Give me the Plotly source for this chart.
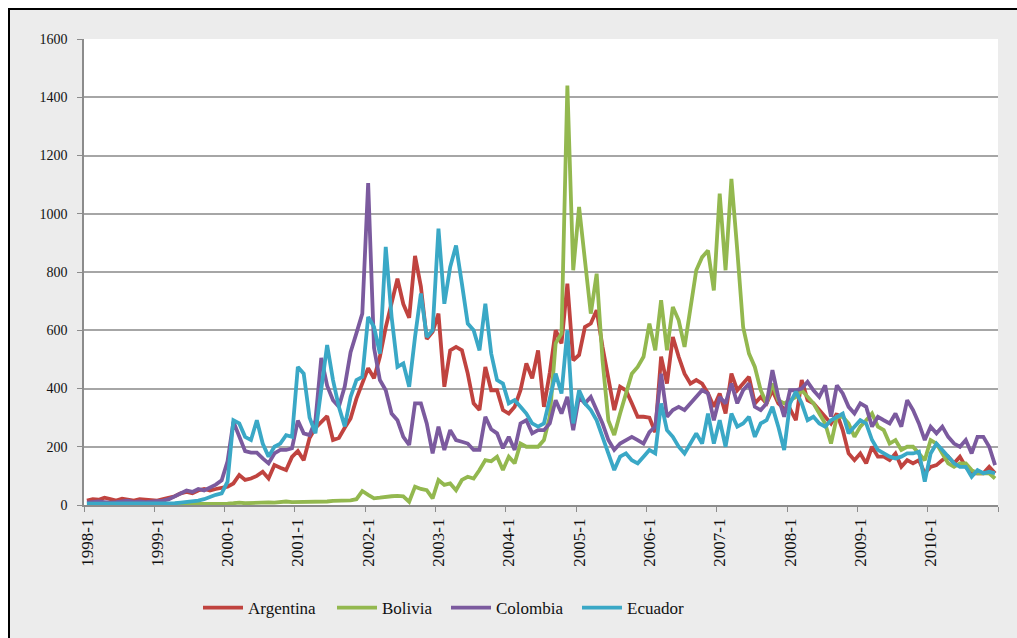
import plotly.graph_objects as go

# ---- data (monthly, 1998-1 .. 2010-12) ----
years = list(range(1998, 2011))
months = [f"{y}-{m}" for y in years for m in range(1, 13)]

argentina = [
    15, 20, 18, 25, 20, 15, 22, 18, 15, 20, 18, 15,
    15, 20, 25, 30, 40, 45, 40, 50, 55, 50, 55, 60,
    63, 74, 103, 86, 91, 100, 114, 91, 137, 128, 120, 165,
    185, 154, 230, 265, 285, 305, 223, 230, 265, 297, 365, 415,
    470, 435, 509, 610, 700, 777, 690, 643, 855, 750, 570, 595,
    657, 406, 531, 543, 531, 451, 349, 326, 474, 394, 394, 326,
    314, 337, 394, 486, 435, 531, 337, 455, 600, 555, 760, 497,
    515, 611, 623, 669, 543, 429, 326, 406, 394, 349, 303, 303,
    300, 250, 509, 417, 577, 509, 451, 417, 429, 417, 383, 337,
    383, 314, 451, 394, 417, 440, 349, 371, 349, 394, 349, 330,
    330, 291, 429, 360, 349, 326, 303, 280, 314, 257, 177, 154,
    177, 143, 200, 166, 166, 154, 177, 131, 154, 143, 154, 109,
    131, 137, 154, 166, 143, 166, 131, 109, 109, 109, 131, 109,
]

bolivia = [
    2, 2, 2, 2, 2, 2, 2, 2, 2, 2, 2, 2,
    2, 2, 3, 3, 3, 3, 3, 3, 4, 4, 4, 4,
    5, 6, 8, 6, 7, 8, 10, 9, 8, 10, 12, 10,
    10, 12, 10, 11, 13, 12, 14, 15, 13, 16, 20, 48,
    35, 23, 25, 29, 30, 31, 30, 11, 63, 55, 51, 23,
    86, 69, 74, 51, 86, 97, 91, 120, 154, 150, 166, 120,
    166, 143, 211, 200, 200, 200, 223, 303, 555, 589, 1440, 806,
    1023, 840, 657, 794, 497, 290, 240, 314, 383, 451, 474, 509,
    623, 531, 703, 531, 680, 634, 543, 669, 806, 851, 874, 737,
    1069, 806, 1120, 874, 611, 520, 474, 394, 349, 417, 360, 349,
    360, 371, 394, 371, 349, 314, 280, 211, 303, 303, 280, 234,
    269, 291, 314, 269, 257, 211, 223, 189, 200, 200, 177, 154,
    223, 211, 177, 143, 131, 143, 143, 120, 109, 109, 109, 91,
]

colombia = [
    8, 10, 12, 10, 8, 10, 12, 15, 10, 12, 10, 12,
    12, 15, 20, 30, 40, 50, 45, 55, 50, 60, 70, 85,
    150, 286, 234, 185, 180, 180, 160, 143, 177, 189, 189, 195,
    290, 246, 240, 290, 505, 410, 360, 337, 407, 525, 590, 657,
    1105, 540, 429, 394, 314, 291, 234, 206, 349, 349, 280, 177,
    269, 189, 257, 223, 217, 211, 189, 189, 303, 260, 246, 195,
    234, 189, 280, 291, 246, 257, 257, 280, 360, 314, 371, 257,
    371, 349, 371, 326, 280, 223, 189, 211, 223, 234, 223, 211,
    250, 269, 451, 303, 326, 337, 326, 349, 371, 394, 383, 291,
    371, 349, 417, 349, 394, 417, 337, 326, 349, 463, 371, 303,
    394, 394, 400, 423, 394, 371, 411, 303, 411, 383, 337, 314,
    349, 337, 269, 303, 291, 280, 314, 269, 360, 326, 280, 223,
    269, 246, 269, 234, 211, 200, 223, 177, 234, 234, 200, 137,
]

ecuador = [
    5, 5, 6, 5, 4, 5, 6, 5, 4, 5, 5, 6,
    5, 6, 5, 6, 8, 10, 12, 15, 20, 28, 35, 40,
    80, 291, 280, 234, 223, 291, 211, 166, 200, 211, 240, 234,
    474, 451, 300, 246, 394, 549, 429, 337, 270, 371, 429, 440,
    646, 611, 520, 886, 646, 474, 486, 406, 577, 726, 577, 600,
    949, 691, 817, 891, 760, 623, 600, 531, 691, 520, 429, 417,
    349, 360, 337, 314, 280, 269, 280, 360, 451, 383, 600, 280,
    394, 349, 326, 291, 234, 177, 120, 166, 177, 154, 143, 166,
    189, 177, 349, 257, 234, 200, 177, 211, 246, 211, 314, 211,
    291, 200, 314, 269, 280, 303, 234, 280, 291, 337, 269, 189,
    349, 389, 349, 291, 303, 280, 269, 291, 303, 314, 246, 269,
    291, 280, 223, 189, 177, 166, 160, 166, 177, 177, 183, 80,
    177, 211, 189, 166, 143, 131, 131, 97, 120, 109, 114, 109,
]

series = [
    ("Argentina", argentina, "#C0433F"),
    ("Bolivia", bolivia, "#93B84F"),
    ("Colombia", colombia, "#7B5A9E"),
    ("Ecuador", ecuador, "#3AA8C6"),
]

tick_labels = [f"{y}-1" for y in years]

# ---- figure ----
W, H = 1017, 638
L, R, T, B = 84, 19, 39, 133
pw, ph = W - L - R, H - T - B

def px(xp):
    return (xp - L) / pw

def py(yp):
    return (H - B - yp) / ph

serif = "Liberation Serif"
legend_left = [198, 332, 446, 577]   # pixel position of each legend entry

idx = list(range(len(months)))
fig = go.Figure()
legends = {}
for i, (name, vals, col) in enumerate(series):
    key = "legend" if i == 0 else f"legend{i + 1}"
    fig.add_trace(go.Scatter(
        x=idx, y=vals, name=name, mode="lines",
        line=dict(color=col, width=3.8),
        customdata=months, legend=key,
    ))
    legends[key] = dict(
        orientation="h", x=px(legend_left[i]), xanchor="left",
        y=py(608), yanchor="middle",
        font=dict(family=serif, size=17, color="#111111"),
        bgcolor="rgba(0,0,0,0)", itemwidth=40,
    )

fig.update_layout(
    width=W, height=H,
    margin=dict(l=L, r=R, t=T, b=B, autoexpand=False),
    paper_bgcolor="#ececec",
    plot_bgcolor="#ffffff",
    font=dict(family=serif, color="#111111"),
    showlegend=True,
    xaxis=dict(
        range=[-0.5, len(months) - 0.5],
        tickmode="array",
        tickvals=[i * 12 - 0.5 for i in range(len(years))] + [len(months) - 0.5],
        ticktext=tick_labels + [""],
        tickangle=-90,
        ticklabelshift=3,
        tickfont=dict(family=serif, size=17, color="#111111"),
        ticks="outside", ticklen=5, tickcolor="#8c8c8c",
        showline=True, linecolor="#8c8c8c", linewidth=1.5,
        showgrid=False, zeroline=False, automargin=False,
    ),
    yaxis=dict(
        range=[0, 1600], dtick=200, tick0=0,
        tickfont=dict(family=serif, size=14, color="#111111"),
        ticks="outside", ticklen=5, tickcolor="#8c8c8c",
        ticklabelstandoff=7,
        showline=True, linecolor="#8c8c8c", linewidth=1.5,
        showgrid=True, gridcolor="#a6a6a6", gridwidth=1.8,
        zeroline=False, automargin=False,
    ),
    shapes=[
        dict(type="rect", xref="paper", yref="paper", x0=px(0), x1=px(W), y0=py(0), y1=py(8),
             fillcolor="#ffffff", line=dict(width=0), layer="above"),
        dict(type="rect", xref="paper", yref="paper", x0=px(0), x1=px(8), y0=py(0), y1=py(H),
             fillcolor="#ffffff", line=dict(width=0), layer="above"),
        dict(type="rect", xref="paper", yref="paper", x0=px(8), x1=px(10), y0=py(8), y1=py(H),
             fillcolor="#000000", line=dict(width=0), layer="above"),
        dict(type="rect", xref="paper", yref="paper", x0=px(8), x1=px(W), y0=py(8), y1=py(10),
             fillcolor="#000000", line=dict(width=0), layer="above"),
    ],
    **legends,
)

fig.write_html(
    "out.html",
    config={"displayModeBar": False},
    post_script="document.body.style.margin='0';document.body.style.overflow='hidden';",
)
